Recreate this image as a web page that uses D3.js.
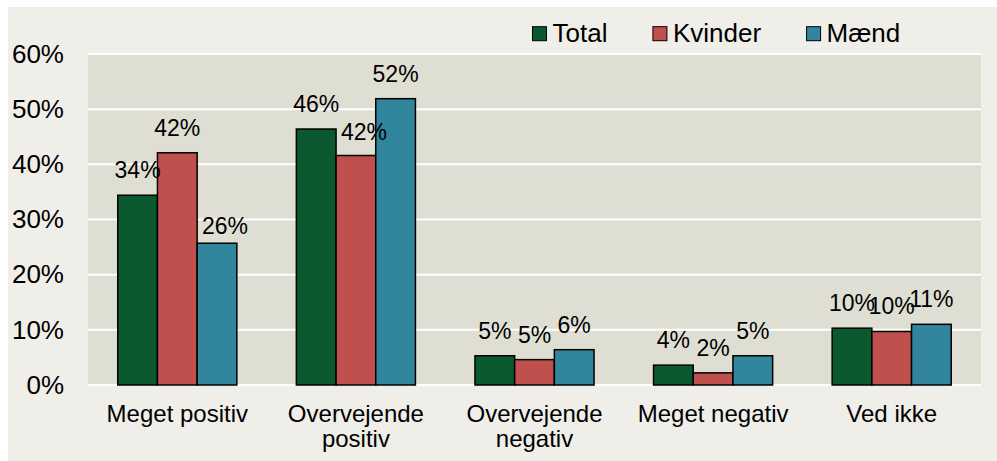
<!DOCTYPE html>
<html>
<head>
<meta charset="utf-8">
<script src="https://cdn.jsdelivr.net/npm/d3@7"></script>
<style>
  html, body { margin: 0; padding: 0; background: #ffffff; }
  svg { display: block; font-family: "Liberation Sans", Arial, sans-serif; }
  .tick text { fill: #000; }
</style>
</head>
<body>
<svg id="chart" width="997" height="461"></svg>
<script>
'use strict';

// categories (each entry is the lines of the axis label)
const categories = [
    ['Meget positiv'],
    ['Overvejende', 'positiv'],
    ['Overvejende', 'negativ'],
    ['Meget negativ'],
    ['Ved ikke']
];
const seriesNames = ['Total', 'Kvinder', 'Mænd'];

// shares
const total   = [0.344, 0.464, 0.053, 0.036, 0.103];
const kvinder = [0.421, 0.416, 0.046, 0.022, 0.097];
const maend   = [0.257, 0.519, 0.064, 0.053, 0.110];

const yTicks = [0, 0.1, 0.2, 0.3, 0.4, 0.5, 0.6];

const colors = ['#0b5a2f', '#c0504d', '#31859c'];

// a couple of labels were moved by hand in the original (series index, category index, dx, dy)
const labelNudges = [[2, 0, 8, 8], [1, 1, 8, 1]];

const series = [total, kvinder, maend];

const svg = d3.select('#chart');
const width = 997, height = 461;
const plot = {left: 88, right: 981, top: 54, bottom: 385};

// outer background
svg.append('rect')
    .attr('x', 8).attr('y', 7)
    .attr('width', width - 8).attr('height', height - 7)
    .attr('fill', '#efeee8');

// plot background
svg.append('rect')
    .attr('x', plot.left).attr('y', plot.top)
    .attr('width', plot.right - plot.left).attr('height', plot.bottom - plot.top)
    .attr('fill', '#dfded3');

const x0 = d3.scaleBand()
    .domain(d3.range(categories.length))
    .range([plot.left, plot.right])
    .paddingInner(1 / 3)
    .paddingOuter(1 / 6);

const x1 = d3.scaleBand()
    .domain(d3.range(series.length))
    .range([0, x0.bandwidth()]);

const y = d3.scaleLinear().domain([0, 0.6]).range([plot.bottom, plot.top]);

// grid lines
svg.append('g')
    .selectAll('line')
    .data(yTicks)
    .join('line')
    .attr('x1', plot.left).attr('x2', plot.right)
    .attr('y1', d => y(d)).attr('y2', d => y(d))
    .attr('stroke', '#ffffff')
    .attr('stroke-width', 2);

// y axis
const yAxis = d3.axisLeft(y)
    .tickValues(yTicks)
    .tickSize(0)
    .tickPadding(0)
    .tickFormat(d3.format('.0%'));

svg.append('g')
    .attr('transform', 'translate(64,0)')
    .call(yAxis)
    .call(g => g.select('.domain').remove())
    .selectAll('.tick text')
    .attr('font-size', 26)
    .attr('font-family', '"Liberation Sans", Arial, sans-serif')
    .attr('dy', '0.32em');

// bars
const groups = svg.append('g')
    .selectAll('g')
    .data(series)
    .join('g')
    .attr('fill', (d, i) => colors[i]);

groups.each(function (values, s) {
    const g = d3.select(this);
    g.selectAll('rect')
        .data(values)
        .join('rect')
        .attr('x', (d, c) => x0(c) + x1(s))
        .attr('y', d => y(d))
        .attr('width', x1.bandwidth())
        .attr('height', d => y(0) - y(d))
        .attr('stroke', '#000')
        .attr('stroke-width', 1.5);
});

// value labels
const pct = d3.format('.0%');
const nudge = (s, c) => {
    const n = labelNudges.find(e => e[0] === s && e[1] === c);
    return n ? [n[2], n[3]] : [0, 0];
};

series.forEach((values, s) => {
    svg.append('g')
        .selectAll('text')
        .data(values)
        .join('text')
        .attr('x', (d, c) => x0(c) + x1(s) + x1.bandwidth() / 2 + nudge(s, c)[0])
        .attr('y', (d, c) => y(d) - 17 + nudge(s, c)[1])
        .attr('text-anchor', 'middle')
        .attr('font-size', 23)
        .attr('fill', '#000')
        .text(d => pct(d));
});

// category labels
const catLabels = svg.append('g')
    .selectAll('text')
    .data(categories)
    .join('text')
    .attr('text-anchor', 'middle')
    .attr('font-size', 24)
    .attr('fill', '#000')
    .attr('transform', (d, i) => 'translate(' + (x0(i) + x0.bandwidth() / 2) + ',' + 421.5 + ')');

catLabels.selectAll('tspan')
    .data(d => d)
    .join('tspan')
    .attr('x', 0)
    .attr('y', (d, i) => i * 25.5)
    .text(d => d);

// legend
const legend = svg.append('g').attr('transform', 'translate(532.5,26.7)');
let lx = 0;
seriesNames.forEach((name, i) => {
    const item = legend.append('g').attr('transform', 'translate(' + lx + ',0)');
    item.append('rect')
        .attr('width', 14).attr('height', 14)
        .attr('fill', colors[i])
        .attr('stroke', '#000')
        .attr('stroke-width', 1);
    const t = item.append('text')
        .attr('x', 20)
        .attr('y', 15)
        .attr('font-size', 26)
        .attr('fill', '#000')
        .text(name);
    lx += 20 + t.node().getComputedTextLength() + 45.5;
});
</script>
</body>
</html>
